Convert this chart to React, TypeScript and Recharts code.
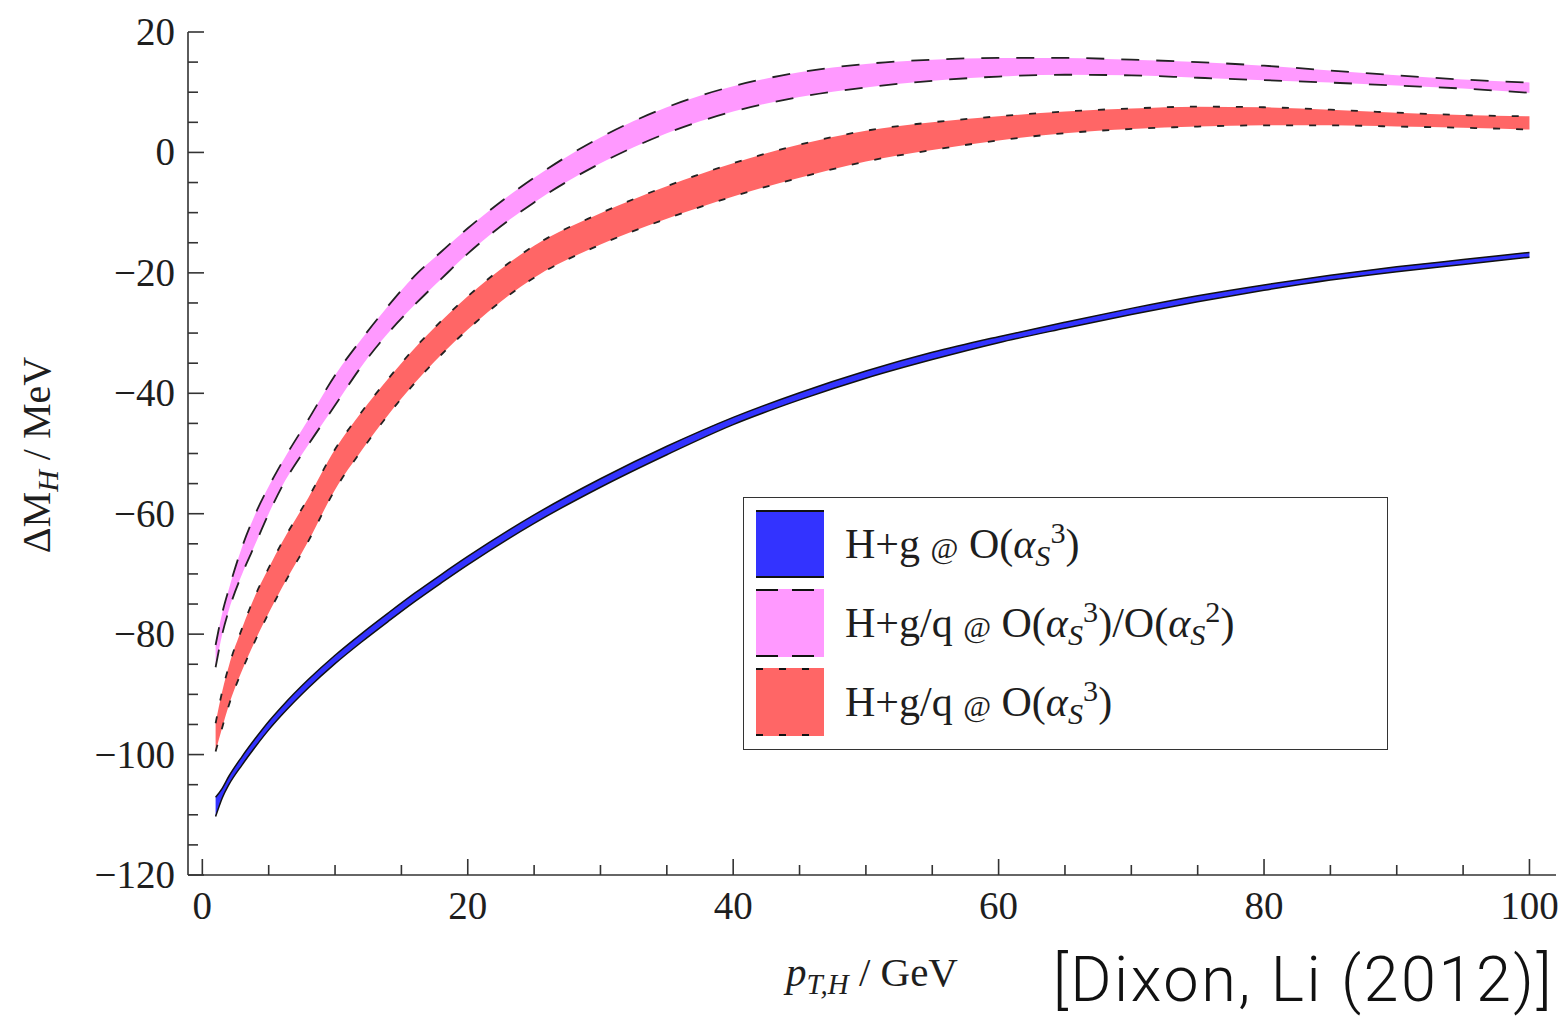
import React from 'react';
import { ComposedChart, Area, XAxis, YAxis, Legend, Label } from 'recharts';

// ---------- data ----------
const pT = [1, 1.5, 2, 3, 4, 5, 6, 8, 10, 12, 14, 16, 18, 20, 25, 30, 35, 40, 45, 50, 55, 60, 65, 70, 75, 80, 85, 90, 95, 100];

const blueLow = [-110.3, -107.2, -105.0, -101.7, -98.7, -95.9, -93.4, -88.9, -84.9, -81.3, -77.9, -74.6, -71.5, -68.5, -61.6, -55.6, -50.2, -45.2, -41.1, -37.5, -34.4, -31.6, -29.2, -26.9, -24.8, -22.9, -21.2, -19.8, -18.6, -17.4];
const blueHigh = [-107.1, -105.6, -103.6, -100.3, -97.3, -94.5, -92.0, -87.5, -83.5, -79.9, -76.5, -73.2, -70.1, -67.1, -60.2, -54.2, -48.8, -44.0, -39.9, -36.3, -33.2, -30.6, -28.2, -25.9, -23.8, -22.0, -20.4, -19.0, -17.8, -16.6];

const pinkLow = [-85.5, -80.0, -76.0, -70.0, -65.0, -60.0, -55.5, -48.5, -42.0, -35.5, -30.0, -25.3, -21.0, -16.8, -8.3, -1.8, 3.2, 6.8, 9.2, 10.8, 11.9, 12.6, 12.9, 12.8, 12.4, 12.0, 11.6, 11.1, 10.6, 9.9];
const pinkHigh = [-81.8, -76.5, -72.5, -65.5, -60.0, -55.5, -51.5, -44.3, -37.0, -31.0, -25.5, -20.5, -16.5, -12.6, -4.2, 2.5, 7.5, 11.0, 13.3, 14.7, 15.4, 15.7, 15.7, 15.4, 15.0, 14.4, 13.6, 12.8, 12.1, 11.6];

const redLow = [-99.5, -95.5, -91.8, -86.0, -81.0, -76.5, -72.3, -64.5, -56.0, -49.5, -43.6, -38.3, -33.6, -29.4, -20.8, -15.3, -11.0, -7.3, -4.2, -1.5, 0.4, 2.0, 3.2, 3.9, 4.3, 4.5, 4.5, 4.3, 4.1, 3.8];
const redHigh = [-94.8, -89.5, -85.3, -79.0, -73.5, -69.0, -64.8, -57.3, -49.3, -43.1, -37.6, -32.5, -28.0, -23.9, -15.5, -10.1, -5.6, -1.8, 1.3, 3.6, 5.0, 6.0, 6.8, 7.3, 7.6, 7.5, 7.1, 6.6, 6.2, 6.0];

const xTicks = [0, 5, 10, 15, 20, 25, 30, 35, 40, 45, 50, 55, 60, 65, 70, 75, 80, 85, 90, 95, 100];
const yTicks = [-120, -115, -110, -105, -100, -95, -90, -85, -80, -75, -70, -65, -60, -55, -50, -45, -40, -35, -30, -25, -20, -15, -10, -5, 0, 5, 10, 15, 20];
const xMajorStep = 20;
const yMajorStep = 20;

const seriesNames = ['H+g @ O(αS3)', 'H+g/q @ O(αS3)/O(αS2)', 'H+g/q @ O(αS3)'];
const seriesColors = ['#3333ff', '#ff99ff', '#ff6666'];

const data = pT.map((x, i) => ({
  pT: x,
  blue: [blueLow[i], blueHigh[i]],
  pink: [pinkLow[i], pinkHigh[i]],
  red: [redLow[i], redHigh[i]],
}));

// ---------- styling ----------
const FONT = '"Liberation Serif", "DejaVu Serif", "Times New Roman", serif';
const INK = '#1e1e1e';
const AXIS = '#333';
const MAJOR = 16;
const MINOR = 10;
const PINK_DASH = '18 17';
const RED_DASH = '7 16';

const fmt = (v: number) => (v < 0 ? '\u2212' + Math.abs(v) : String(v));

const BottomTick = (props: any) => {
  const { x, y, payload } = props;
  const v = payload.value;
  const major = v % xMajorStep === 0;
  return (
    <g>
      <line x1={x} x2={x} y1={y} y2={y - (major ? MAJOR : MINOR)} stroke={AXIS} strokeWidth={1.6} />
      {major && (
        <text x={x} y={y + 44} textAnchor="middle" fontFamily={FONT} fontSize={39} fill={INK}>
          {fmt(v)}
        </text>
      )}
    </g>
  );
};

const TopTick = (props: any) => {
  const { x, y, payload } = props;
  const major = payload.value % xMajorStep === 0;
  return <line x1={x} x2={x} y1={y} y2={y + (major ? MAJOR + 1 : MINOR + 1)} stroke={AXIS} strokeWidth={1.6} />;
};

const LeftTick = (props: any) => {
  const { x, y, payload } = props;
  const v = payload.value;
  const major = v % yMajorStep === 0;
  return (
    <g>
      <line x1={x} x2={x + (major ? MAJOR : MINOR)} y1={y} y2={y} stroke={AXIS} strokeWidth={1.6} />
      {major && (
        <text x={x - 13} y={y + 13} textAnchor="end" fontFamily={FONT} fontSize={39} fill={INK}>
          {fmt(v)}
        </text>
      )}
    </g>
  );
};

const RightTick = (props: any) => {
  const { x, y, payload } = props;
  const major = payload.value % yMajorStep === 0;
  return <line x1={x} x2={x - (major ? MAJOR + 1 : MINOR + 1)} y1={y} y2={y} stroke={AXIS} strokeWidth={1.6} />;
};

const YTitle = () => (
  <text transform="translate(50,455) rotate(-90)" textAnchor="middle" fontFamily={FONT} fontSize={40} fill={INK}>
    ΔM
    <tspan fontStyle="italic" fontSize={30} dy={8}>H</tspan>
    <tspan dy={-8}> / MeV</tspan>
  </text>
);

const XTitle = () => (
  <g>
    <text x={872} y={986} textAnchor="middle" fontFamily={FONT} fontSize={41} fill={INK}>
      <tspan fontStyle="italic">p</tspan>
      <tspan fontStyle="italic" fontSize={29} dy={8}>T,H</tspan>
      <tspan dy={-8}> / GeV</tspan>
    </text>
    <text
      x={1554}
      y={1001}
      textAnchor="end"
      fontFamily='Roboto, "Liberation Sans", sans-serif'
      fontWeight={300}
      fontSize={63}
      letterSpacing={2.5}
      fill="#111"
    >
      [Dixon, Li (2012)]
    </text>
  </g>
);

const AlphaS = ({ p }: { p: string }) => (
  <>
    <i>α</i>
    <span style={{ fontStyle: 'italic', fontSize: '0.72em', position: 'relative', top: '0.28em' }}>S</span>
    <span style={{ fontSize: '0.72em', position: 'relative', top: '-0.5em' }}>{p}</span>
  </>
);

const At = () => <span style={{ fontSize: '0.72em' }}>@</span>;

const legendLabels = [
  <>H+g <At /> O(<AlphaS p="3" />)</>,
  <>H+g/q <At /> O(<AlphaS p="3" />)/O(<AlphaS p="2" />)</>,
  <>H+g/q <At /> O(<AlphaS p="3" />)</>,
];
const legendDash = [undefined, '22 14', RED_DASH];

const LegendBox = () => (
  <div
    style={{
      width: 645,
      height: 253,
      border: '1.6px solid #333',
      background: '#fff',
      boxSizing: 'border-box',
      position: 'relative',
      fontFamily: FONT,
      color: INK,
    }}
  >
    {seriesNames.map((name, i) => (
      <div
        key={name}
        title={name}
        style={{ position: 'absolute', left: 12, top: 12 + i * 79, height: 68, display: 'flex', alignItems: 'center' }}
      >
        <svg width={68} height={68} style={{ display: 'block' }}>
          <rect x={0} y={0} width={68} height={68} fill={seriesColors[i]} />
          <line x1={0} x2={68} y1={1} y2={1} stroke="#111" strokeWidth={2} strokeDasharray={legendDash[i]} />
          <line x1={0} x2={68} y1={67} y2={67} stroke="#111" strokeWidth={2} strokeDasharray={legendDash[i]} />
        </svg>
        <span style={{ marginLeft: 21, fontSize: 42, lineHeight: 1, whiteSpace: 'nowrap' }}>{legendLabels[i]}</span>
      </div>
    ))}
  </div>
);

export default function App() {
  const xDomain: [number, number] = [-1.08, 102];
  const yDomain: [number, number] = [-120, 20];
  const axisLine = { stroke: AXIS, strokeWidth: 1.6 };
  return (
    <div style={{ position: 'absolute', left: 0, top: 0, width: 1563, height: 1023, background: '#fff' }}>
      <ComposedChart width={1563} height={1023} data={data} margin={{ top: 32, right: 7, bottom: 88, left: 88 }}>
        <XAxis
          xAxisId="b"
          dataKey="pT"
          type="number"
          domain={xDomain}
          allowDataOverflow
          ticks={xTicks}
          interval={0}
          tickSize={0}
          tickMargin={0}
          tickLine={false}
          axisLine={axisLine}
          height={60}
          tick={<BottomTick />}
        >
          <Label content={() => <XTitle />} />
        </XAxis>
        <XAxis
          xAxisId="t"
          orientation="top"
          dataKey="pT"
          type="number"
          domain={xDomain}
          allowDataOverflow
          ticks={xTicks}
          interval={0}
          tickSize={0}
          tickMargin={0}
          tickLine={false}
          axisLine={axisLine}
          height={0}
          tick={<TopTick />}
        />
        <YAxis
          yAxisId="l"
          type="number"
          domain={yDomain}
          allowDataOverflow
          ticks={yTicks}
          interval={0}
          tickSize={0}
          tickMargin={0}
          tickLine={false}
          axisLine={axisLine}
          width={100}
          tick={<LeftTick />}
        >
          <Label content={() => <YTitle />} />
        </YAxis>
        <YAxis
          yAxisId="r"
          orientation="right"
          type="number"
          domain={yDomain}
          allowDataOverflow
          ticks={yTicks}
          interval={0}
          tickSize={0}
          tickMargin={0}
          tickLine={false}
          axisLine={axisLine}
          width={0}
          tick={<RightTick />}
        />
        <Area
          xAxisId="b"
          yAxisId="l"
          name={seriesNames[1]}
          dataKey="pink"
          type="monotone"
          fill={seriesColors[1]}
          fillOpacity={1}
          stroke="#222"
          strokeWidth={1.8}
          strokeDasharray={PINK_DASH}
          dot={false}
          activeDot={false}
          isAnimationActive={false}
        />
        <Area
          xAxisId="b"
          yAxisId="l"
          name={seriesNames[2]}
          dataKey="red"
          type="monotone"
          fill={seriesColors[2]}
          fillOpacity={1}
          stroke="#222"
          strokeWidth={1.8}
          strokeDasharray={RED_DASH}
          dot={false}
          activeDot={false}
          isAnimationActive={false}
        />
        <Area
          xAxisId="b"
          yAxisId="l"
          name={seriesNames[0]}
          dataKey="blue"
          type="monotone"
          fill={seriesColors[0]}
          fillOpacity={1}
          stroke="#111"
          strokeWidth={1.5}
          dot={false}
          activeDot={false}
          isAnimationActive={false}
        />
        <Legend
          layout="vertical"
          align="center"
          verticalAlign="middle"
          content={() => <LegendBox />}
          wrapperStyle={{ left: 743, top: 497, width: 645, height: 253 }}
        />
      </ComposedChart>
    </div>
  );
}
